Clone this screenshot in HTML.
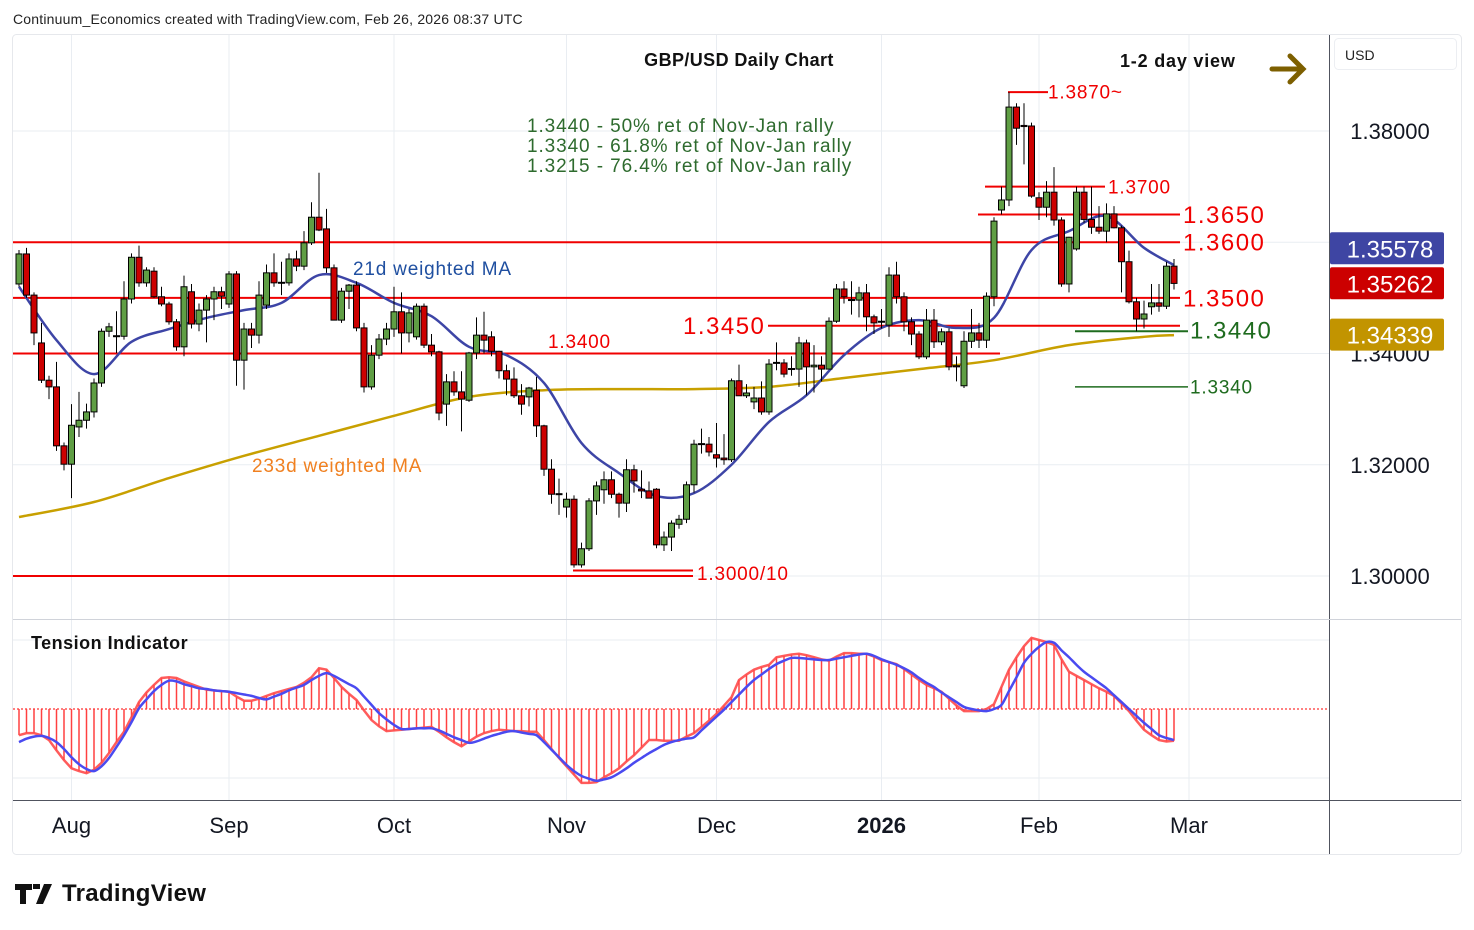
<!DOCTYPE html>
<html><head><meta charset="utf-8"><style>
body{margin:0;background:#fff;width:1474px;height:930px;overflow:hidden;font-family:"Liberation Sans",sans-serif}
svg{display:block}
</style></head><body>
<svg id="chart" width="1474" height="930" viewBox="0 0 1474 930" xmlns="http://www.w3.org/2000/svg" font-family="Liberation Sans, sans-serif">
<text x="13" y="24" font-size="14" fill="#222" letter-spacing="0.2">Continuum_Economics created with TradingView.com, Feb 26, 2026 08:37 UTC</text>
<rect x="12.5" y="34.5" width="1449" height="820" rx="4" fill="none" stroke="#e6e8ec"/>
<g id="grid"></g>
<g id="levels"></g>
<g id="mas"></g>
<g id="candles"></g>
<g id="tension"></g>
<line x1="1329.5" y1="35" x2="1329.5" y2="854" stroke="#50535e"/>
<line x1="13" y1="619.5" x2="1461" y2="619.5" stroke="#d0d3da"/>
<line x1="13" y1="800.5" x2="1461" y2="800.5" stroke="#50535e"/>
<g id="axes"></g>
<text x="739" y="66" font-size="18" font-weight="bold" text-anchor="middle" fill="#111" letter-spacing="0.4">GBP/USD Daily Chart</text>
<text x="1120" y="67" font-size="18" font-weight="bold" fill="#111" letter-spacing="0.8">1-2 day view</text>
<g stroke="#7d5f00" stroke-width="5" stroke-linecap="round" fill="none"><line x1="1272" y1="69" x2="1302" y2="69"/><polyline points="1290,56 1303,69 1290,82"/></g>
<g font-size="19" fill="#2e6b2e" letter-spacing="0.9">
<text x="527" y="132">1.3440 - 50% ret of Nov-Jan rally</text>
<text x="527" y="152">1.3340 - 61.8% ret of Nov-Jan rally</text>
<text x="527" y="172">1.3215 - 76.4% ret of Nov-Jan rally</text>
</g>
<text x="353" y="275" font-size="19" fill="#1f4fa0" letter-spacing="0.8">21d weighted MA</text>
<text x="252" y="472" font-size="19" fill="#f08020" letter-spacing="0.8">233d weighted MA</text>
<text x="31" y="649" font-size="18" font-weight="bold" fill="#111" letter-spacing="0.5">Tension Indicator</text>
<rect x="1334.5" y="38.5" width="122" height="31" rx="4" fill="#fff" stroke="#eceef2"/>
<text x="1345" y="60" font-size="14" fill="#222">USD</text>
<g>
<path d="M15 884h17v6h-6v14h-6v-14h-5z M33 884h7v5h-7z M44 884h8l-9 20h-7z" fill="#111"/>
<text x="62" y="901" font-size="24" font-weight="bold" fill="#111" letter-spacing="0.3">TradingView</text>
</g>
</svg>
<script>
const opens=[1.3525,1.3579,1.3505,1.3419,1.3352,1.3340,1.3234,1.3201,1.3268,1.3280,1.3295,1.3347,1.3440,1.3432,1.3431,1.3498,1.3573,1.3527,1.3548,1.3502,1.3489,1.3457,1.3412,1.3511,1.3453,1.3478,1.3498,1.3511,1.3489,1.3543,1.3388,1.3444,1.3433,1.3487,1.3545,1.3528,1.3527,1.3570,1.3557,1.3599,1.3645,1.3624,1.3554,1.3460,1.3512,1.3523,1.3446,1.3340,1.3397,1.3426,1.3444,1.3475,1.3437,1.3430,1.3485,1.3415,1.3403,1.3309,1.3349,1.3331,1.3316,1.3401,1.3433,1.3430,1.3404,1.3369,1.3354,1.3324,1.3322,1.3334,1.3270,1.3192,1.3148,1.3124,1.3138,1.3020,1.3049,1.3135,1.3155,1.3173,1.3147,1.3131,1.3191,1.3156,1.3153,1.3156,1.3056,1.3070,1.3093,1.3102,1.3164,1.3238,1.3237,1.3218,1.3212,1.3209,1.3351,1.3324,1.3313,1.3320,1.3295,1.3384,1.3383,1.3373,1.3372,1.3419,1.3376,1.3379,1.3372,1.3458,1.3516,1.3497,1.3496,1.3509,1.3466,1.3458,1.3451,1.3541,1.3502,1.3457,1.3435,1.3394,1.3460,1.3421,1.3439,1.3378,1.3342,1.3422,1.3437,1.3424,1.3502,1.3658,1.3676,1.3843,1.3810,1.3809,1.3680,1.3663,1.3690,1.3640,1.3525,1.3588,1.3690,1.3641,1.3627,1.3620,1.3651,1.3626,1.3565,1.3493,1.3462,1.3484,1.3491,1.3485,1.3557];
const highs=[1.3586,1.3590,1.3510,1.3455,1.3360,1.3385,1.3240,1.3309,1.3331,1.3310,1.3355,1.3445,1.3455,1.3476,1.3530,1.3580,1.3594,1.3555,1.3555,1.3520,1.3493,1.3462,1.3540,1.3525,1.3490,1.3505,1.3520,1.3520,1.3548,1.3548,1.3455,1.3455,1.3530,1.3560,1.3580,1.3565,1.3580,1.3585,1.3620,1.3672,1.3725,1.3660,1.3560,1.3518,1.3525,1.3530,1.3455,1.3415,1.3435,1.3455,1.3520,1.3510,1.3480,1.3490,1.3490,1.3435,1.3405,1.3363,1.3368,1.3368,1.3403,1.3465,1.3475,1.3440,1.3405,1.3380,1.3375,1.3345,1.3340,1.3358,1.3272,1.3210,1.3175,1.3150,1.3145,1.3060,1.3140,1.3170,1.3188,1.3188,1.3150,1.3210,1.3200,1.3190,1.3170,1.3158,1.3080,1.3100,1.3110,1.3170,1.3245,1.3265,1.3250,1.3275,1.3255,1.3355,1.3380,1.3345,1.3340,1.3350,1.3390,1.3420,1.3390,1.3395,1.3430,1.3425,1.3415,1.3395,1.3465,1.3525,1.3530,1.3530,1.3520,1.3525,1.3470,1.3480,1.3555,1.3565,1.3510,1.3465,1.3440,1.3480,1.3480,1.3445,1.3445,1.3395,1.3440,1.3480,1.3455,1.3510,1.3645,1.3700,1.3870,1.3850,1.3850,1.3815,1.3690,1.3710,1.3735,1.3645,1.3610,1.3700,1.3700,1.3700,1.3665,1.3670,1.3665,1.3630,1.3585,1.3500,1.3495,1.3525,1.3525,1.3565,1.3570];
const lows=[1.3520,1.3500,1.3415,1.3347,1.3318,1.3225,1.3190,1.3140,1.3250,1.3265,1.3285,1.3340,1.3430,1.3401,1.3425,1.3490,1.3520,1.3520,1.3500,1.3485,1.3452,1.3405,1.3395,1.3445,1.3440,1.3420,1.3460,1.3480,1.3482,1.3342,1.3335,1.3410,1.3418,1.3480,1.3520,1.3505,1.3522,1.3548,1.3550,1.3595,1.3620,1.3545,1.3460,1.3455,1.3480,1.3440,1.3330,1.3335,1.3390,1.3415,1.3430,1.3400,1.3420,1.3425,1.3410,1.3395,1.3280,1.3270,1.3324,1.3260,1.3313,1.3390,1.3400,1.3395,1.3355,1.3325,1.3320,1.3290,1.3305,1.3250,1.3180,1.3130,1.3110,1.3105,1.3015,1.3015,1.3045,1.3110,1.3130,1.3140,1.3105,1.3115,1.3150,1.3140,1.3145,1.3050,1.3045,1.3045,1.3085,1.3095,1.3150,1.3220,1.3215,1.3195,1.3200,1.3205,1.3324,1.3320,1.3300,1.3290,1.3290,1.3370,1.3357,1.3360,1.3340,1.3325,1.3330,1.3350,1.3372,1.3455,1.3490,1.3470,1.3465,1.3440,1.3435,1.3445,1.3430,1.3490,1.3440,1.3415,1.3390,1.3390,1.3410,1.3415,1.3370,1.3350,1.3338,1.3410,1.3410,1.3410,1.3485,1.3650,1.3665,1.3775,1.3740,1.3680,1.3640,1.3645,1.3630,1.3520,1.3510,1.3585,1.3635,1.3615,1.3615,1.3600,1.3625,1.3510,1.3490,1.3440,1.3445,1.3470,1.3475,1.3480,1.3515];
const closes=[1.3579,1.3505,1.3437,1.3352,1.3340,1.3234,1.3201,1.3271,1.3280,1.3295,1.3347,1.3440,1.3448,1.3431,1.3498,1.3573,1.3527,1.3550,1.3502,1.3489,1.3457,1.3412,1.3520,1.3453,1.3478,1.3498,1.3511,1.3503,1.3543,1.3388,1.3444,1.3433,1.3505,1.3545,1.3527,1.3527,1.3570,1.3557,1.3599,1.3645,1.3622,1.3554,1.3460,1.3512,1.3523,1.3446,1.3340,1.3397,1.3426,1.3444,1.3475,1.3437,1.3473,1.3485,1.3415,1.3403,1.3293,1.3349,1.3331,1.3318,1.3401,1.3433,1.3424,1.3404,1.3369,1.3354,1.3324,1.3309,1.3338,1.3270,1.3192,1.3147,1.3147,1.3138,1.3020,1.3049,1.3135,1.3162,1.3173,1.3147,1.3131,1.3191,1.3171,1.3153,1.3140,1.3056,1.3070,1.3095,1.3102,1.3164,1.3237,1.3237,1.3223,1.3212,1.3209,1.3351,1.3324,1.3329,1.3320,1.3295,1.3381,1.3383,1.3363,1.3372,1.3419,1.3376,1.3379,1.3372,1.3458,1.3516,1.3502,1.3496,1.3509,1.3466,1.3455,1.3457,1.3541,1.3502,1.3457,1.3435,1.3394,1.3460,1.3421,1.3439,1.3376,1.3376,1.3422,1.3437,1.3424,1.3503,1.3638,1.3676,1.3843,1.3805,1.3808,1.3683,1.3663,1.3690,1.3640,1.3525,1.3609,1.3690,1.3641,1.3627,1.3620,1.3651,1.3626,1.3565,1.3493,1.3462,1.3471,1.3491,1.3485,1.3557,1.3526];
const ma21Bars=[0,5,10,15,20,25,30,35,40,45,50,55,60,65,70,75,80,85,90,95,100,105,110,115,120,125,130,135,140,145,150,154];
const ma21=[1.3520,1.3424,1.3363,1.3421,1.3444,1.3464,1.3478,1.3491,1.3541,1.3527,1.3491,1.3467,1.3412,1.3397,1.3347,1.3239,1.3185,1.3144,1.3149,1.3200,1.3277,1.3325,1.3397,1.3446,1.3460,1.3446,1.3464,1.3586,1.3620,1.3647,1.3590,1.3559];
const ma233Bars=[0,10,20,30,40,50,60,70,80,90,100,110,120,130,140,150,154];
const ma233=[1.3106,1.3133,1.3176,1.3216,1.3252,1.3288,1.3322,1.3334,1.3336,1.3336,1.3340,1.3356,1.3372,1.3388,1.3415,1.3430,1.3433];
const tensionHist=[-38,-35,-35,-38,-45,-60,-74,-86,-90,-93,-88,-78,-64,-48,-33,-12,10,24,35,45,46,45,40,36,32,28,27,26,25,18,12,12,15,19,23,26,29,32,38,46,59,57,45,32,22,13,-2,-16,-25,-32,-31,-30,-29,-28,-27,-26,-33,-41,-48,-54,-47,-40,-35,-32,-30,-31,-32,-32,-33,-33,-45,-58,-71,-83,-95,-107,-107,-106,-99,-93,-86,-76,-67,-56,-45,-45,-46,-46,-46,-40,-35,-26,-17,-7,5,17,42,50,57,61,64,75,77,79,80,78,75,72,70,76,81,81,80,80,76,71,68,65,58,50,42,35,30,25,15,5,-3,-3,-3,0,7,32,57,75,91,103,100,97,93,72,54,48,42,36,30,25,19,8,-3,-17,-30,-38,-45,-47,-46];
const tensionSignal=[-48,-43,-40,-39,-42,-48,-58,-70,-80,-87,-90,-83,-71,-55,-38,-19,1,14,26,35,41,40,36,33,30,29,27,26,25,23,21,19,16,14,18,22,27,31,35,42,48,52,48,42,36,30,18,6,-6,-15,-23,-29,-29,-28,-28,-28,-31,-36,-41,-45,-49,-47,-43,-39,-36,-33,-32,-34,-36,-38,-48,-59,-70,-81,-90,-97,-101,-104,-102,-99,-93,-86,-78,-71,-64,-58,-52,-48,-45,-43,-41,-31,-21,-11,-1,10,21,32,42,50,58,65,70,74,74,73,72,71,71,73,75,77,79,80,77,72,68,64,59,53,45,38,32,24,17,10,3,0,-2,-3,0,6,26,46,67,80,90,97,96,85,75,64,54,46,38,30,20,10,0,-10,-20,-29,-38,-42,-45];
const priceTicks=[1.30,1.32,1.34,1.36,1.38];
const priceTickLabels=["1.30000","1.32000","1.34000","","1.38000"];
const monthBars=[7,28,50,73,93,115,136,156];
const monthLabels=["Aug","Sep","Oct","Nov","Dec","2026","Feb","Mar"];
const badgeValues=[1.35578,1.35262,1.34339];
const badgeTexts=["1.35578","1.35262","1.34339"];

const NS="http://www.w3.org/2000/svg";
const X=i=>19+7.5*i;
const Y=p=>576-(p-1.30)*5562.5;
const TY=v=>709-v*0.69;
function mk(tag,attrs,parent){const e=document.createElementNS(NS,tag);for(const k in attrs)e.setAttribute(k,attrs[k]);parent.appendChild(e);return e;}
const G=id=>document.getElementById(id);

const grid=G('grid');
priceTicks.forEach((p,k)=>{const l=mk('line',{x1:13,x2:1329,y1:Y(p),y2:Y(p),stroke:'#e9edf2'},grid);

});
[640,778].forEach(y=>{const l=mk('line',{x1:13,x2:1329,y1:y,y2:y,stroke:'#e9edf2'},grid);

});
monthBars.forEach(b=>{const x=X(b);const l=mk('line',{x1:x,x2:x,y1:35,y2:800,stroke:'#e9edf2'},grid);

});

const axes=G('axes');
priceTicks.forEach((p,k)=>{if(!priceTickLabels[k])return;const t=mk('text',{x:1390,y:Y(p)+8,'font-size':22,'text-anchor':'middle',fill:'#131722'},axes);t.textContent=priceTickLabels[k];

});
monthBars.forEach((b,k)=>{const t=mk('text',{x:X(b),y:833,'font-size':22,'text-anchor':'middle',fill:'#131722','font-weight':monthLabels[k]==='2026'?'bold':'normal'},axes);t.textContent=monthLabels[k];

});
// price badges (stacked to avoid overlap, as TradingView does)
const badgeColors=['#3e45a3','#cc0000','#c29400'];
let prevBottom=-1e9;
badgeValues.forEach((v,k)=>{let y=Y(v);});
const centers=badgeValues.map(Y);
// resolve overlap bottom-up: second badge stays, first pushed up
for(let k=centers.length-2;k>=0;k--){if(centers[k+1]-centers[k]<35)centers[k]=centers[k+1]-35;}
badgeValues.forEach((v,k)=>{const y=centers[k];const r=mk('rect',{x:1330,y:y-16,width:114,height:32,rx:2,fill:badgeColors[k]},axes);


const t=mk('text',{x:1390,y:y+9,'font-size':24,'text-anchor':'middle',fill:'#fff'},axes);t.textContent=badgeTexts[k];

});

const lv=G('levels');
function hline(p,x1,x2,color,w,name){const l=mk('line',{x1:x1,x2:x2,y1:Y(p),y2:Y(p),stroke:color,'stroke-width':w},lv);

}
function label(txt,x,p,size,color,name,dy){const t=mk('text',{x:x,y:Y(p)+(dy||0)+size*0.35,'font-size':size,fill:color,'letter-spacing':size>20?1.5:0.8},lv);t.textContent=txt;

}
const RED='#f00000',GRN='#1e6b1e';
hline(1.36,13,1180,RED,2,'level-1-3600');label('1.3600',1183,1.36,24,RED,'level-1-3600-label');
hline(1.35,13,1180,RED,2,'level-1-3500');label('1.3500',1183,1.35,24,RED,'level-1-3500-label');
hline(1.34,13,1000,RED,2,'level-1-3400');label('1.3400',548,1.34,19,RED,'level-1-3400-label',-12);
hline(1.365,978,1180,RED,2,'level-1-3650');label('1.3650',1183,1.365,24,RED,'level-1-3650-label');
hline(1.37,985,1105,RED,2,'level-1-3700');label('1.3700',1108,1.37,19,RED,'level-1-3700-label');
hline(1.387,1008,1048,RED,2,'level-1-3870');label('1.3870~',1048,1.387,19,RED,'level-1-3870-label');
hline(1.345,768,1180,RED,2,'level-1-3450');label('1.3450',683,1.345,24,RED,'level-1-3450-label');
hline(1.3,13,693,RED,2,'level-1-3000');hline(1.301,573,693,RED,2,'level-1-3010');label('1.3000/10',697,1.3005,19,RED,'level-1-3000-label');
hline(1.344,1075,1188,GRN,2,'level-1-3440');label('1.3440',1190,1.3442,24,GRN,'level-1-3440-label');
hline(1.334,1075,1188,GRN,1.5,'level-1-3340');label('1.3340',1190,1.334,19,GRN,'level-1-3340-label');

function smooth(pts){let d='M'+pts[0][0]+','+pts[0][1];for(let i=0;i<pts.length-1;i++){const p0=pts[i-1]||pts[i],p1=pts[i],p2=pts[i+1],p3=pts[i+2]||p2;
const c1=[p1[0]+(p2[0]-p0[0])/6,p1[1]+(p2[1]-p0[1])/6],c2=[p2[0]-(p3[0]-p1[0])/6,p2[1]-(p3[1]-p1[1])/6];
d+=' C'+c1[0]+','+c1[1]+' '+c2[0]+','+c2[1]+' '+p2[0]+','+p2[1];}return d;}
const mas=G('mas');
const p233=mk('path',{d:smooth(ma233Bars.map((b,k)=>[X(b),Y(ma233[k])])),fill:'none',stroke:'#c8a000','stroke-width':2.5},mas);


const p21=mk('path',{d:smooth(ma21Bars.map((b,k)=>[X(b),Y(ma21[k])])),fill:'none',stroke:'#3d45a6','stroke-width':2.5},mas);



const cg=G('candles');
closes.forEach((c,i)=>{const o=opens[i],x=X(i);const up=c>=o;
const w=mk('line',{x1:x,x2:x,y1:Y(highs[i]),y2:Y(lows[i]),stroke:'#000','stroke-width':1},cg);


const top=Y(Math.max(o,c)),bot=Y(Math.min(o,c));
const r=mk('rect',{x:x-3,y:top,width:6,height:Math.max(1,bot-top),fill:up?'#5f9e44':'#cc0000',stroke:'#000','stroke-width':1},cg);

});

const tg=G('tension');
const zl=mk('line',{x1:13,x2:1329,y1:709,y2:709,stroke:'#f00','stroke-width':1,'stroke-dasharray':'2,2'},tg);


tensionHist.forEach((v,i)=>{const l=mk('line',{x1:X(i),x2:X(i),y1:709,y2:TY(v),stroke:'#ff4040','stroke-width':1.5},tg);

});
const th=mk('path',{d:'M'+tensionHist.map((v,i)=>X(i)+','+TY(v)).join(' L'),fill:'none',stroke:'#ff4a4a','stroke-width':2.5,'stroke-opacity':0.9},tg);


const ts=mk('path',{d:smooth(tensionSignal.map((v,i)=>[X(i),TY(v)])),fill:'none',stroke:'#4a4af0','stroke-width':2.5},tg);


</script>
</body></html>
